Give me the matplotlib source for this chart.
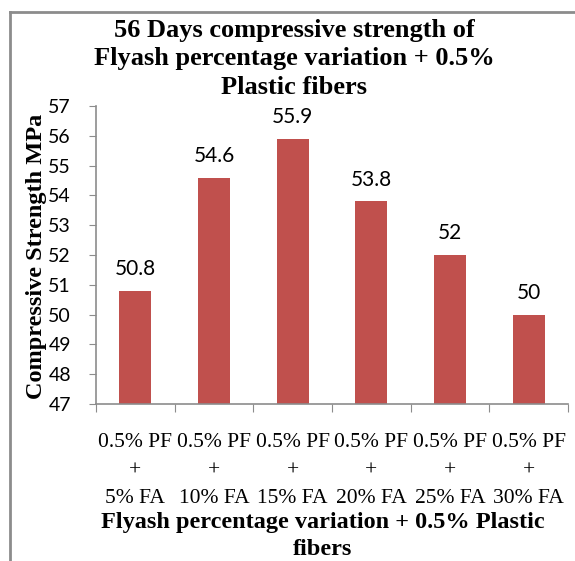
import matplotlib
matplotlib.use('Agg')
import matplotlib.pyplot as plt
from matplotlib.lines import Line2D

categorias = ['0.5% PF\n+\n5% FA', '0.5% PF\n+\n10% FA', '0.5% PF\n+\n15% FA',
              '0.5% PF\n+\n20% FA', '0.5% PF\n+\n25% FA', '0.5% PF\n+\n30% FA']
resistencia = [50.8, 54.6, 55.9, 53.8, 52, 50]
rotulos = ['50.8', '54.6', '55.9', '53.8', '52', '50']
yticks = list(range(47, 58))

serif = 'Liberation Serif'
sans = 'Lato'
cinza = '#8c8c8c'

fig = plt.figure(figsize=(5.75, 5.61), dpi=100)
ax = fig.add_axes([96 / 575, 1 - 404 / 561, 472 / 575, 298 / 561])

x = list(range(len(categorias)))
ax.bar(x, resistencia, width=0.41, color='#c0504d', bottom=0)

for xi, v, r in zip(x, resistencia, rotulos):
    ax.annotate(r, (xi, v), xytext=(0, 8.5), textcoords='offset points',
                ha='center', va='bottom', fontsize=15, family=sans)

ax.set_xlim(-0.5, len(categorias) - 0.5)
ax.set_ylim(47, 57)
ax.set_yticks(yticks)
ax.set_yticklabels([str(t) for t in yticks], fontsize=14, family=sans)

# ticks do eixo x nas divisas entre categorias
ax.set_xticks([i - 0.5 for i in range(len(categorias) + 1)])
ax.set_xticklabels([])
ax.set_xticks(x, minor=True)
ax.set_xticklabels(categorias, minor=True, fontsize=15.5, family=serif, linespacing=1.65)
ax.tick_params(axis='x', which='minor', length=0, pad=21)
ax.tick_params(axis='x', which='major', length=6, color=cinza, direction='out')
ax.tick_params(axis='y', length=5, color=cinza, direction='out', pad=13)

for lado in ['top', 'right']:
    ax.spines[lado].set_visible(False)
for lado in ['left', 'bottom']:
    ax.spines[lado].set_color(cinza)
    ax.spines[lado].set_linewidth(1.2)

fig.text(294 / 575, 1 - 59 / 561,
         '56 Days compressive strength of\nFlyash percentage variation + 0.5%\nPlastic fibers',
         ha='center', va='center', fontsize=19, fontweight='bold', family=serif, linespacing=1.3)
fig.text(37 / 575, 1 - 256 / 561, 'Compressive Strength MPa', rotation=90,
         ha='center', va='center', fontsize=17.5, fontweight='bold', family=serif)
fig.text(323 / 575, 1 - 536 / 561, 'Flyash percentage variation + 0.5% Plastic\nfibers',
         ha='center', va='center', fontsize=17.5, fontweight='bold', family=serif, linespacing=1.35)

# moldura do gráfico
fig.add_artist(Line2D([9.5 / 575, 9.5 / 575], [0, 1 - 11.5 / 561], transform=fig.transFigure,
                      color=cinza, linewidth=2))
fig.add_artist(Line2D([9.5 / 575, 1], [1 - 11.5 / 561, 1 - 11.5 / 561], transform=fig.transFigure,
                      color=cinza, linewidth=2))

fig.savefig('out.png', dpi=100)
